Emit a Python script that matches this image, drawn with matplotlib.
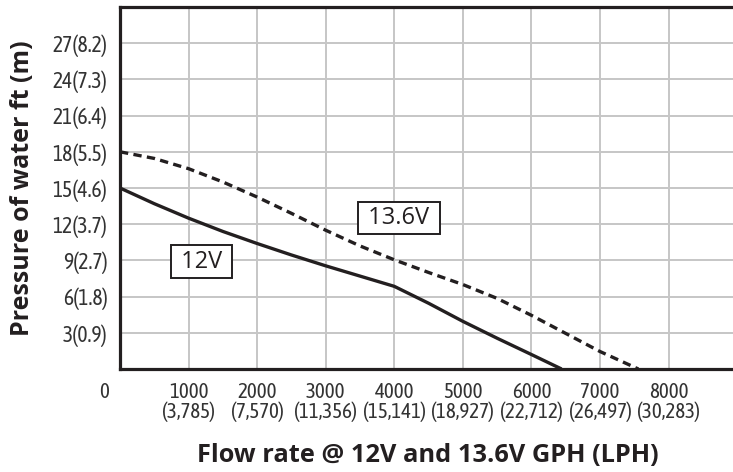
import matplotlib
matplotlib.use("Agg")
import matplotlib.pyplot as plt
from matplotlib import font_manager

# ---- data ----
flow_12v = [0, 500, 1000, 1500, 2000, 2500, 3000, 3500, 4000, 4500, 5000, 5500, 6000, 6440]
head_12v = [15.0, 13.7, 12.5, 11.4, 10.4, 9.45, 8.55, 7.7, 6.85, 5.45, 3.95, 2.55, 1.2, 0.0]
flow_136v = [0, 500, 1000, 1500, 2000, 2500, 3000, 3500, 4000, 4500, 5000, 5500, 6000, 6500, 7000, 7560]
head_136v = [18.0, 17.45, 16.6, 15.5, 14.25, 12.9, 11.5, 10.2, 9.05, 8.0, 7.0, 5.85, 4.45, 2.95, 1.45, 0.0]

x_ticks = [1000, 2000, 3000, 4000, 5000, 6000, 7000, 8000]
x_tick_labels = ["1000\n(3,785)", "2000\n(7,570)", "3000\n(11,356)", "4000\n(15,141)",
                 "5000\n(18,927)", "6000\n(22,712)", "7000\n(26,497)", "8000\n(30,283)"]
y_ticks = [3, 6, 9, 12, 15, 18, 21, 24, 27]
y_tick_labels = ["3(0.9)", "6(1.8)", "9(2.7)", "12(3.7)", "15(4.6)", "18(5.5)",
                 "21(6.4)", "24(7.3)", "27(8.2)"]

names = {f.name for f in font_manager.fontManager.ttflist}
narrow = next((n for n in ["Asap Condensed", "Barlow Semi Condensed", "Archivo Narrow"] if n in names),
              "DejaVu Sans")
bold_font = "Open Sans"

ink = "#231f20"
tick_col = "#333333"
fig = plt.figure(figsize=(7.33, 4.72), dpi=100)
ax = fig.add_axes([120/733, 103/472, 613/733, 362/472])

ax.plot(flow_12v, head_12v, color=ink, lw=2.4, solid_capstyle="butt", solid_joinstyle="round", zorder=3)
ax.plot(flow_136v, head_136v, color=ink, lw=2.4, dashes=(2.5, 1.6), zorder=3)

ax.set_xlim(0, 8940)
ax.set_ylim(0, 30)
ax.set_xticks(x_ticks)
ax.set_xticklabels(x_tick_labels, fontfamily=narrow, fontsize=15, color=tick_col, linespacing=0.95)
ax.set_yticks(y_ticks)
ax.set_yticklabels(y_tick_labels, fontfamily=narrow, fontsize=15.5, color=tick_col)
ax.tick_params(axis="both", length=0)
ax.tick_params(axis="x", pad=9.5)
ax.tick_params(axis="y", pad=9)
ax.grid(True, color="#c6c6c6", lw=1.4)
ax.set_axisbelow(True)

for s in ["left", "bottom", "top"]:
    ax.spines[s].set_linewidth(2.3)
    ax.spines[s].set_color(ink)
ax.spines["right"].set_visible(False)

ax.annotate("0", xy=(0, 0), xycoords="data", xytext=(-11.5, -9.5), textcoords="offset points",
            ha="center", va="top", fontfamily=narrow, fontsize=15, color=tick_col)

box = dict(boxstyle="square,pad=0.18", fc="white", ec=ink, lw=1.4)
ax.text(1188, 8.9, " 12V ", ha="center", va="center", fontsize=17, fontfamily=bold_font,
        color=ink, bbox=box, zorder=4)
ax.text(4067, 12.5, " 13.6V ", ha="center", va="center", fontsize=17, fontfamily=bold_font,
        color=ink, bbox=box, zorder=4)

fig.text(23/733, 1 - 188/472, "Pressure of water ft (m)", rotation=90, ha="center", va="center",
         fontsize=18, fontweight="bold", fontfamily=bold_font, color=ink)
fig.text(428/733, 1 - 456/472, "Flow rate @ 12V and 13.6V GPH (LPH)", ha="center", va="center",
         fontsize=18.3, fontweight="bold", fontfamily=bold_font, color=ink)

fig.savefig("out.png", dpi=100)
